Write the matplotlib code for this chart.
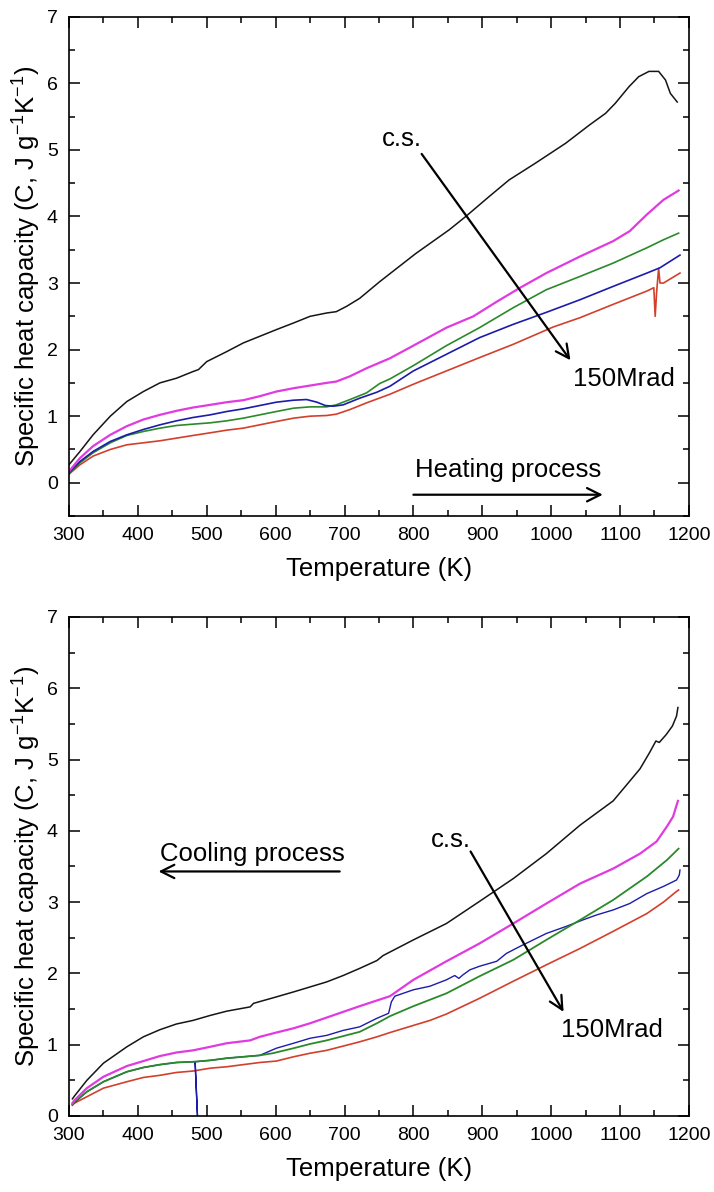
import matplotlib
matplotlib.use("Agg")
import matplotlib.pyplot as plt
from matplotlib.ticker import MultipleLocator

plt.rcParams["font.family"] = ["Liberation Sans", "DejaVu Sans"]
plt.rcParams["mathtext.default"] = "regular"

# 1. Heating process curves (temperature in K, specific heat in J/g/K)
heat_cs_T = [300, 316, 335, 360, 384, 408, 432, 456, 480, 488, 493, 500, 529, 553, 577, 601, 626, 650,
             674, 688, 703, 722, 751, 803, 852, 876, 910, 939, 977, 1021, 1055, 1079, 1093, 1113, 1127,
             1142, 1156, 1166, 1173, 1183]
heat_cs_C = [0.27, 0.47, 0.72, 1.0, 1.22, 1.37, 1.5, 1.57, 1.67, 1.70, 1.75, 1.82, 1.97, 2.1, 2.2, 2.3, 2.4, 2.5,
             2.55, 2.57, 2.65, 2.77, 3.02, 3.44, 3.80, 4.0, 4.30, 4.55, 4.80, 5.10, 5.37, 5.55, 5.70, 5.95, 6.10,
             6.18, 6.18, 6.05, 5.85, 5.72]

heat_m_T = [300, 316, 335, 360, 384, 408, 432, 456, 480, 505, 529, 553, 577, 601, 626, 650, 674, 688, 708,
            732, 766, 800, 848, 887, 921, 955, 993, 1042, 1090, 1114, 1139, 1163, 1185]
heat_m_C = [0.17, 0.37, 0.55, 0.72, 0.85, 0.95, 1.02, 1.08, 1.13, 1.17, 1.21, 1.24, 1.30, 1.37, 1.42, 1.46,
            1.50, 1.52, 1.60, 1.72, 1.87, 2.06, 2.33, 2.50, 2.72, 2.93, 3.15, 3.40, 3.63, 3.78, 4.03, 4.25, 4.39]

heat_g_T = [300, 316, 335, 360, 384, 408, 432, 456, 480, 505, 529, 553, 577, 601, 626, 650, 674, 688, 708,
            732, 751, 766, 800, 848, 896, 945, 993, 1042, 1090, 1139, 1163, 1185]
heat_g_C = [0.13, 0.30, 0.45, 0.60, 0.71, 0.77, 0.82, 0.86, 0.88, 0.90, 0.93, 0.97, 1.02, 1.07, 1.12, 1.14,
            1.14, 1.17, 1.25, 1.35, 1.49, 1.56, 1.76, 2.06, 2.33, 2.63, 2.90, 3.10, 3.30, 3.53, 3.65, 3.75]

heat_b_T = [300, 316, 335, 360, 384, 408, 432, 456, 480, 505, 529, 553, 577, 601, 626, 645, 660, 672, 684,
            698, 722, 747, 766, 800, 848, 896, 945, 993, 1042, 1090, 1139, 1158, 1187]
heat_b_C = [0.15, 0.32, 0.47, 0.62, 0.72, 0.80, 0.87, 0.93, 0.98, 1.02, 1.07, 1.11, 1.16, 1.21, 1.24, 1.25,
            1.21, 1.16, 1.15, 1.17, 1.27, 1.36, 1.45, 1.68, 1.93, 2.18, 2.38, 2.56, 2.75, 2.95, 3.15, 3.23, 3.42]

heat_r_T = [300, 316, 335, 360, 384, 408, 432, 456, 480, 505, 529, 553, 577, 601, 626, 650, 674, 688, 708,
            732, 766, 800, 848, 896, 945, 1003, 1042, 1090, 1139, 1149, 1151, 1153, 1156, 1158, 1163, 1187]
heat_r_C = [0.13, 0.27, 0.40, 0.50, 0.57, 0.60, 0.63, 0.67, 0.71, 0.75, 0.79, 0.82, 0.87, 0.92, 0.97, 1.00,
            1.01, 1.03, 1.10, 1.20, 1.33, 1.48, 1.68, 1.88, 2.08, 2.34, 2.48, 2.68, 2.88, 2.93, 2.50, 2.85,
            3.22, 3.00, 3.00, 3.15]

# 2. Cooling process curves
cool_cs_T = [305, 308, 326, 350, 384, 408, 432, 456, 480, 505, 529, 563, 568, 601, 626, 650, 674, 698, 722,
             747, 756, 766, 800, 848, 896, 945, 993, 1042, 1090, 1110, 1129, 1143, 1152, 1157, 1167, 1176,
             1182, 1184]
cool_cs_C = [0.24, 0.28, 0.50, 0.74, 0.97, 1.11, 1.21, 1.29, 1.34, 1.41, 1.47, 1.53, 1.58, 1.67, 1.74, 1.81,
             1.88, 1.97, 2.07, 2.18, 2.25, 2.30, 2.47, 2.70, 3.01, 3.33, 3.68, 4.08, 4.42, 4.65, 4.87, 5.10,
             5.26, 5.24, 5.35, 5.47, 5.61, 5.73]

cool_m_T = [305, 308, 326, 350, 384, 408, 432, 456, 480, 505, 529, 563, 577, 601, 626, 650, 674, 698, 722,
            747, 766, 800, 848, 896, 945, 993, 1042, 1090, 1129, 1153, 1168, 1177, 1184]
cool_m_C = [0.18, 0.22, 0.39, 0.55, 0.70, 0.77, 0.84, 0.89, 0.92, 0.97, 1.02, 1.06, 1.11, 1.17, 1.23, 1.30,
            1.38, 1.46, 1.54, 1.62, 1.68, 1.91, 2.17, 2.42, 2.70, 2.98, 3.26, 3.47, 3.68, 3.85, 4.06, 4.20, 4.42]

cool_g_T = [305, 308, 326, 350, 384, 408, 432, 456, 480, 505, 529, 553, 577, 596, 626, 650, 674, 698, 722,
            747, 766, 800, 848, 896, 945, 993, 1042, 1090, 1139, 1168, 1185]
cool_g_C = [0.16, 0.20, 0.34, 0.48, 0.62, 0.68, 0.72, 0.75, 0.76, 0.78, 0.81, 0.83, 0.85, 0.88, 0.95, 1.01,
            1.06, 1.12, 1.18, 1.30, 1.40, 1.54, 1.72, 1.96, 2.19, 2.47, 2.75, 3.03, 3.36, 3.59, 3.75]

# the blue cooling run has one bad reading near 485 K that drops off the axis
cool_b_T = [305, 326, 350, 384, 408, 432, 456, 480, 483, 487, 483.2, 505, 529, 553, 577, 601, 626, 650, 674,
            698, 722, 747, 764, 768, 773, 800, 824, 848, 860, 866, 872, 882, 896, 921, 935, 955, 974, 993,
            1022, 1046, 1066, 1090, 1114, 1139, 1163, 1182, 1186, 1187]
cool_b_C = [0.16, 0.34, 0.48, 0.62, 0.68, 0.72, 0.75, 0.76, 0.76, -0.1, 0.76, 0.78, 0.81, 0.83, 0.85, 0.95,
            1.02, 1.09, 1.13, 1.20, 1.25, 1.37, 1.44, 1.60, 1.68, 1.77, 1.82, 1.91, 1.97, 1.93, 1.98, 2.05,
            2.10, 2.17, 2.28, 2.38, 2.47, 2.56, 2.66, 2.75, 2.82, 2.89, 2.98, 3.12, 3.22, 3.31, 3.38, 3.45]

cool_r_T = [305, 308, 326, 350, 384, 408, 432, 456, 480, 505, 529, 553, 577, 601, 626, 650, 674, 698, 722,
            747, 766, 800, 824, 848, 896, 945, 993, 1042, 1090, 1139, 1163, 1182, 1185]
cool_r_C = [0.15, 0.18, 0.27, 0.39, 0.48, 0.54, 0.57, 0.61, 0.63, 0.67, 0.69, 0.72, 0.75, 0.77, 0.83, 0.88,
            0.92, 0.98, 1.04, 1.11, 1.17, 1.27, 1.34, 1.43, 1.65, 1.89, 2.12, 2.35, 2.59, 2.84, 3.00, 3.15, 3.17]

# 3. Colours / styles
BLACK = "#151515"
MAGENTA = "#e03ae0"
GREEN = "#2a8a2a"
BLUE = "#1c1caa"
RED = "#d2402c"

ylabel_text = "Specific heat capacity (C, J g$^{-1}$K$^{-1}$)"

fig = plt.figure(figsize=(7.14, 11.92), dpi=100)
ax1 = fig.add_axes([0.0966, 0.5671, 0.8683, 0.4188])
ax2 = fig.add_axes([0.0966, 0.0638, 0.8683, 0.4186])


def style_axes(ax, ymin):
    ax.set_xlim(300, 1200)
    ax.set_ylim(ymin, 7)
    ax.xaxis.set_major_locator(MultipleLocator(100))
    ax.xaxis.set_minor_locator(MultipleLocator(50))
    ax.yaxis.set_major_locator(MultipleLocator(1))
    ax.yaxis.set_minor_locator(MultipleLocator(0.5))
    ax.tick_params(which="both", direction="in", top=True, right=True, width=1.1, labelsize=14, pad=8)
    ax.tick_params(which="major", length=8)
    ax.tick_params(which="minor", length=4.5)
    for s in ax.spines.values():
        s.set_linewidth(1.2)
    ax.set_xlabel("Temperature (K)", fontsize=18.5, labelpad=9)
    ax.set_ylabel(ylabel_text, fontsize=18.5, labelpad=3)


def arrow(ax, start, end):
    ax.annotate("", xy=end, xytext=start,
                arrowprops=dict(arrowstyle="->", lw=1.6, color="black",
                                mutation_scale=24, shrinkA=0, shrinkB=0))


# 4. Heating panel
ax1.plot(heat_cs_T, heat_cs_C, color=BLACK, lw=1.1)
ax1.plot(heat_r_T, heat_r_C, color=RED, lw=1.2)
ax1.plot(heat_g_T, heat_g_C, color=GREEN, lw=1.2)
ax1.plot(heat_b_T, heat_b_C, color=BLUE, lw=1.2)
ax1.plot(heat_m_T, heat_m_C, color=MAGENTA, lw=1.6)
style_axes(ax1, -0.5)

ax1.text(754, 5.06, "c.s.", fontsize=18.5, va="baseline")
ax1.text(1032, 1.46, "150Mrad", fontsize=18.5, va="baseline")
ax1.text(802, 0.08, "Heating process", fontsize=18.5, va="baseline")
arrow(ax1, (812, 4.94), (1028, 1.84))
arrow(ax1, (800, -0.18), (1075, -0.18))

# 5. Cooling panel
ax2.plot(cool_cs_T, cool_cs_C, color=BLACK, lw=1.1)
ax2.plot(cool_r_T, cool_r_C, color=RED, lw=1.2)
ax2.plot(cool_b_T, cool_b_C, color=BLUE, lw=1.0)
ax2.plot(cool_g_T, cool_g_C, color=GREEN, lw=1.3)
ax2.plot(cool_m_T, cool_m_C, color=MAGENTA, lw=1.6)
style_axes(ax2, 0)

ax2.text(826, 3.78, "c.s.", fontsize=18.5, va="baseline")
ax2.text(1014, 1.11, "150Mrad", fontsize=18.5, va="baseline")
ax2.text(432, 3.57, "Cooling process", fontsize=18.5, va="baseline")
arrow(ax2, (883, 3.71), (1018, 1.46))
arrow(ax2, (693, 3.43), (430, 3.43))

plt.savefig("out.png", dpi=100)
plt.close()
